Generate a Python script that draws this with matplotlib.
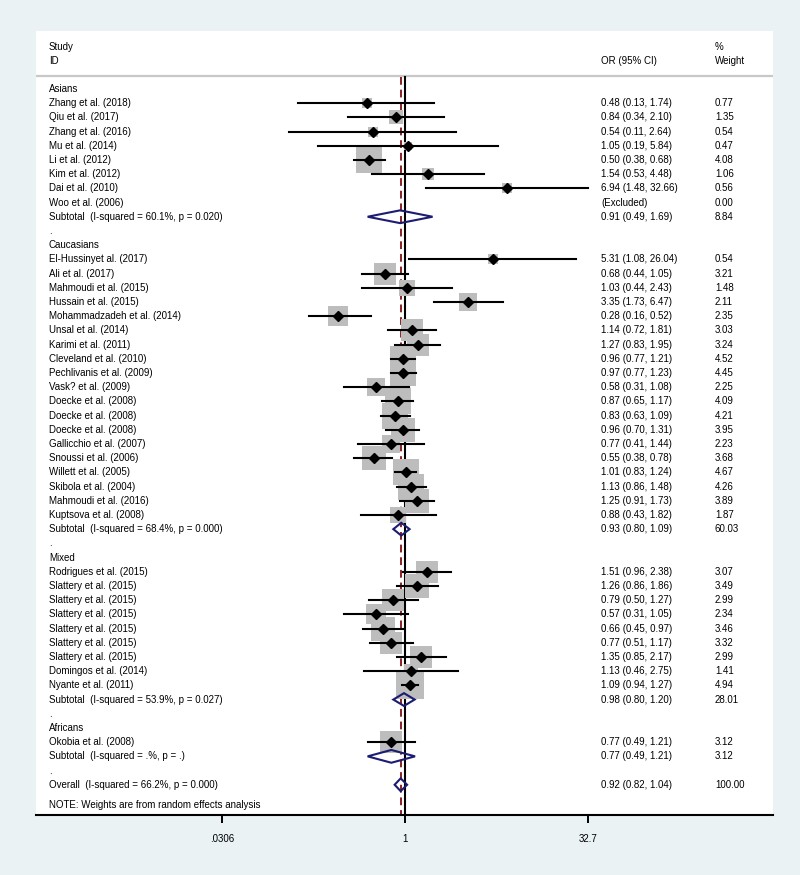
import numpy as np
import matplotlib.pyplot as plt
from matplotlib.patches import Polygon
import matplotlib.transforms as mtransforms

plt.rcParams.update({
    "font.family": ["Liberation Sans", "DejaVu Sans"],
    "font.size": 7,
})

# ---- data ----
groups = ["Asians", "Caucasians", "Mixed", "Africans"]

asia_names = ["Zhang et al. (2018)", "Qiu et al. (2017)", "Zhang et al. (2016)", "Mu et al. (2014)",
              "Li et al. (2012)", "Kim et al. (2012)", "Dai et al. (2010)", "Woo et al. (2006)"]
asia_or = [0.48, 0.84, 0.54, 1.05, 0.50, 1.54, 6.94, np.nan]
asia_lo = [0.13, 0.34, 0.11, 0.19, 0.38, 0.53, 1.48, np.nan]
asia_hi = [1.74, 2.10, 2.64, 5.84, 0.68, 4.48, 32.66, np.nan]
asia_wt = [0.77, 1.35, 0.54, 0.47, 4.08, 1.06, 0.56, 0.00]

cauc_names = ["El-Hussinyet al. (2017)", "Ali et al. (2017)", "Mahmoudi et al. (2015)", "Hussain et al. (2015)",
              "Mohammadzadeh et al. (2014)", "Unsal et al. (2014)", "Karimi et al. (2011)",
              "Cleveland et al. (2010)", "Pechlivanis et al. (2009)", "Vask? et al. (2009)",
              "Doecke et al. (2008)", "Doecke et al. (2008)", "Doecke et al. (2008)",
              "Gallicchio et al. (2007)", "Snoussi et al. (2006)", "Willett et al. (2005)",
              "Skibola et al. (2004)", "Mahmoudi et al. (2016)", "Kuptsova et al. (2008)"]
cauc_or = [5.31, 0.68, 1.03, 3.35, 0.28, 1.14, 1.27, 0.96, 0.97, 0.58, 0.87, 0.83, 0.96, 0.77, 0.55, 1.01, 1.13, 1.25, 0.88]
cauc_lo = [1.08, 0.44, 0.44, 1.73, 0.16, 0.72, 0.83, 0.77, 0.77, 0.31, 0.65, 0.63, 0.70, 0.41, 0.38, 0.83, 0.86, 0.91, 0.43]
cauc_hi = [26.04, 1.05, 2.43, 6.47, 0.52, 1.81, 1.95, 1.21, 1.23, 1.08, 1.17, 1.09, 1.31, 1.44, 0.78, 1.24, 1.48, 1.73, 1.82]
cauc_wt = [0.54, 3.21, 1.48, 2.11, 2.35, 3.03, 3.24, 4.52, 4.45, 2.25, 4.09, 4.21, 3.95, 2.23, 3.68, 4.67, 4.26, 3.89, 1.87]

mix_names = ["Rodrigues et al. (2015)"] + ["Slattery et al. (2015)"] * 6 + ["Domingos et al. (2014)", "Nyante et al. (2011)"]
mix_or = [1.51, 1.26, 0.79, 0.57, 0.66, 0.77, 1.35, 1.13, 1.09]
mix_lo = [0.96, 0.86, 0.50, 0.31, 0.45, 0.51, 0.85, 0.46, 0.94]
mix_hi = [2.38, 1.86, 1.27, 1.05, 0.97, 1.17, 2.17, 2.75, 1.27]
mix_wt = [3.07, 3.49, 2.99, 2.34, 3.46, 3.32, 2.99, 1.41, 4.94]

afr_names = ["Okobia et al. (2008)"]
afr_or = [0.77]
afr_lo = [0.49]
afr_hi = [1.21]
afr_wt = [3.12]

sub_het = ["(I-squared = 60.1%, p = 0.020)", "(I-squared = 68.4%, p = 0.000)",
           "(I-squared = 53.9%, p = 0.027)", "(I-squared = .%, p = .)"]
sub_or = [0.91, 0.93, 0.98, 0.77]
sub_lo = [0.49, 0.80, 0.80, 0.49]
sub_hi = [1.69, 1.09, 1.20, 1.21]
sub_wt = [8.84, 60.03, 28.01, 3.12]

overall_het = "(I-squared = 66.2%, p = 0.000)"
overall = (0.92, 0.82, 1.04, 100.00)

tick_vals = [0.0306, 1, 32.7]
tick_labels = [".0306", "1", "32.7"]

studies = [
    (asia_names, asia_or, asia_lo, asia_hi, asia_wt),
    (cauc_names, cauc_or, cauc_lo, cauc_hi, cauc_wt),
    (mix_names, mix_or, mix_lo, mix_hi, mix_wt),
    (afr_names, afr_or, afr_lo, afr_hi, afr_wt),
]

# ---- figure ----
fig = plt.figure(figsize=(8, 8.75), dpi=100, facecolor="#EAF2F3")
ax = fig.add_axes([36 / 800, 1 - 815 / 875, 737 / 800, 784 / 875])
ax.set_facecolor("white")
ax.set_xscale("log")
ax.set_xlim(10 ** -3.055, 10 ** 3.046)
ax.set_ylim(-51.13, 4.08)

tr = mtransforms.blended_transform_factory(ax.transAxes, ax.transData)
x_lab, x_est, x_wt = 0.0176, 0.7666, 0.9213
navy = "#1C1C72"
box_col = "#BDBDBD"
box_scale = 80

def fmt(o, l, h):
    return "%.2f (%.2f, %.2f)" % (o, l, h)

def diamond(o, l, h, y):
    p = Polygon([[l, y], [o, y + 0.45], [h, y], [o, y - 0.45]], closed=True,
                fill=False, edgecolor=navy, lw=1.5, zorder=5)
    ax.add_patch(p)

# header
ax.text(x_lab, 2.96, "Study", transform=tr, va="center")
ax.text(x_lab, 1.97, "ID", transform=tr, va="center")
ax.text(x_est, 1.97, "OR (95% CI)", transform=tr, va="center")
ax.text(x_wt, 2.96, "%", transform=tr, va="center")
ax.text(x_wt, 1.97, "Weight", transform=tr, va="center")
ax.axhline(0.92, color="#C8C8C8", lw=1.6, zorder=1)

i = 0
for g, (names, ors, los, his, wts) in enumerate(studies):
    ax.text(x_lab, -i, groups[g], transform=tr, va="center")
    i += 1
    for n, o, l, h, w in zip(names, ors, los, his, wts):
        y = -i
        ax.text(x_lab, y, n, transform=tr, va="center")
        if np.isnan(o):
            ax.text(x_est, y, "(Excluded)", transform=tr, va="center")
        else:
            ax.text(x_est, y, fmt(o, l, h), transform=tr, va="center")
            ax.scatter([o], [y], s=box_scale * w, marker="s", color=box_col, lw=0, zorder=3)
            ax.plot([l, h], [y, y], color="black", lw=1.5, zorder=4)
            ax.plot([o], [y], marker="D", ms=4.8, color="black", zorder=6)
        ax.text(x_wt, y, "%.2f" % w, transform=tr, va="center")
        i += 1
    y = -i
    ax.text(x_lab, y, "Subtotal  " + sub_het[g], transform=tr, va="center")
    ax.text(x_est, y, fmt(sub_or[g], sub_lo[g], sub_hi[g]), transform=tr, va="center")
    ax.text(x_wt, y, "%.2f" % sub_wt[g], transform=tr, va="center")
    diamond(sub_or[g], sub_lo[g], sub_hi[g], y)
    i += 1
    ax.text(x_lab, -i, ".", transform=tr, va="center")
    i += 1

y = -i
ax.text(x_lab, y, "Overall  " + overall_het, transform=tr, va="center")
ax.text(x_est, y, fmt(*overall[:3]), transform=tr, va="center")
ax.text(x_wt, y, "%.2f" % overall[3], transform=tr, va="center")
diamond(overall[0], overall[1], overall[2], y)
ax.text(x_lab, y - 1.45, "NOTE: Weights are from random effects analysis", transform=tr, va="center")

# reference lines
ax.plot([1, 1], [0.85, -51.13], color="black", lw=1.5, zorder=2)
ax.plot([overall[0], overall[0]], [0.85, -51.13], color="#8B2323", lw=1.4,
        dashes=(4, 2.5), zorder=2)

for s in ["top", "left", "right"]:
    ax.spines[s].set_visible(False)
ax.spines["bottom"].set_linewidth(1.5)
ax.set_yticks([])
ax.set_xticks(tick_vals)
ax.set_xticklabels(tick_labels)
ax.xaxis.set_minor_locator(plt.NullLocator())
ax.tick_params(axis="x", direction="out", length=6, width=1.4, pad=8, labelsize=7)

fig.savefig("out.png", dpi=100, facecolor=fig.get_facecolor())
